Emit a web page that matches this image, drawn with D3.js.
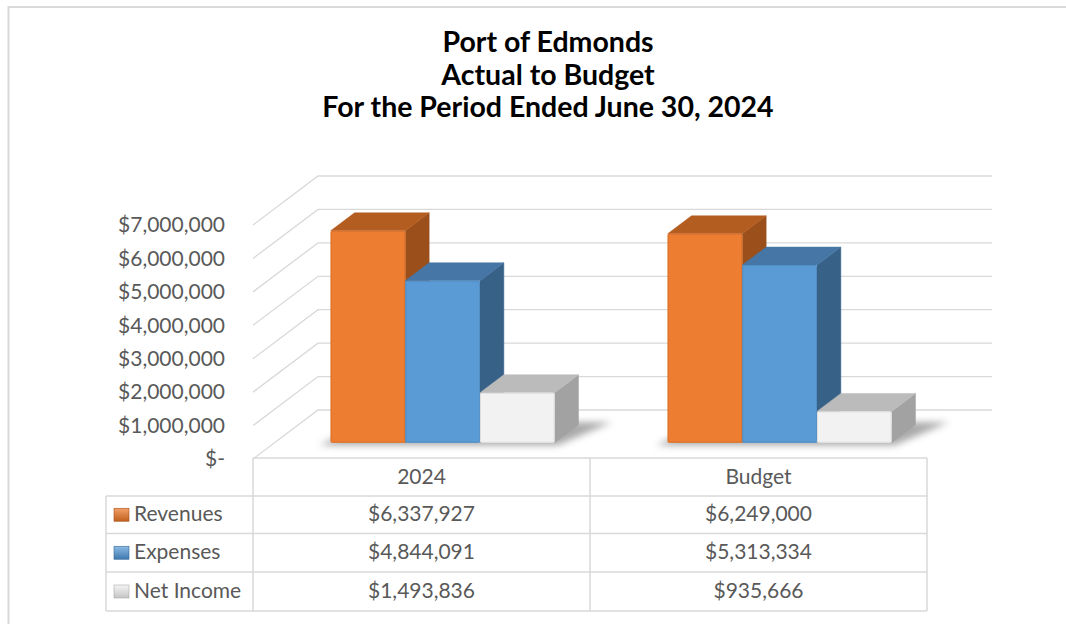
<!DOCTYPE html>
<html>
<head>
<meta charset="utf-8">
<script src="https://cdn.jsdelivr.net/npm/d3@7/dist/d3.min.js"></script>
<style>
  html, body { margin: 0; padding: 0; background: #fff; }
  svg { display: block; font-family: Lato, "Open Sans", sans-serif; }
</style>
</head>
<body>
<svg id="chart" width="1066" height="624"></svg>
<script>
// ---------------- data ----------------
const titleLines = ["Port of Edmonds", "Actual to Budget", "For the Period Ended June 30, 2024"];
const categories = ["2024", "Budget"];
const seriesNames = ["Revenues", "Expenses", "Net Income"];
const revenues = [6337927, 6249000];
const expenses = [4844091, 5313334];
const netIncome = [1493836, 935666];
const yTicks = [0, 1000000, 2000000, 3000000, 4000000, 5000000, 6000000, 7000000];
const yTickLabels = ["$-", "$1,000,000", "$2,000,000", "$3,000,000", "$4,000,000", "$5,000,000", "$6,000,000", "$7,000,000"];
const valueLabels = [
  ["$6,337,927", "$6,249,000"],
  ["$4,844,091", "$5,313,334"],
  ["$1,493,836", "$935,666"]
];

// ---------------- styles ----------------
const seriesValues = [revenues, expenses, netIncome];
const palette = {
  Revenues:    { front: "#ED7D31", top: "#B45D21", side: "#9B4F1B", key1: "#F4A06A", key2: "#C0601E" },
  Expenses:    { front: "#5B9BD5", top: "#4676A5", side: "#386188", key1: "#8DBCE6", key2: "#3F78AE" },
  "Net Income":{ front: "#F2F2F2", top: "#BBBBBB", side: "#A2A2A2", key1: "#F5F5F5", key2: "#C4C4C4" }
};
const gridColor = "#D9D9D9";
const textColor = "#595959";

const svg = d3.select("#chart");

// outer frame
svg.append("path").attr("d", "M8.5,624 L8.5,7 L1066,7")
  .attr("fill", "none").attr("stroke", gridColor).attr("stroke-width", 2);

// title
svg.append("g").selectAll("text").data(titleLines).join("text")
  .attr("x", 548).attr("y", (d, i) => 52 + i * 32.5)
  .attr("text-anchor", "middle").attr("font-weight", 700)
  .attr("font-size", 28.5).attr("fill", "#000").text(d => d);

// ---------------- 3D projection ----------------
const floorFront = 459, DX = 65, DY = 49;
const x = d3.scaleBand().domain(categories).range([253, 927]).paddingInner(0).paddingOuter(0);
const xs = d3.scaleBand().domain(seriesNames).range([56, 280]).padding(0);
const y = d3.scaleLinear().domain([0, 7000000]).range([0, 234]);
const proj = (px, v, d) => [px + d * DX, floorFront - d * DY - y(v)];
const line = d3.line();

// walls / gridlines
const grid = svg.append("g");
yTicks.forEach(v => {
  grid.append("path")
    .attr("d", line([proj(x.range()[0], v, 0), proj(x.range()[0], v, 1), proj(x.range()[1], v, 1)]))
    .attr("fill", "none").attr("stroke", gridColor).attr("stroke-width", 1.3);
});

// y labels
svg.append("g").selectAll("text").data(yTicks).join("text")
  .attr("x", 225).attr("y", v => proj(0, v, 0)[1] + 2)
  .attr("text-anchor", "end").attr("dominant-baseline", "middle")
  .attr("font-size", 21).attr("fill", textColor)
  .text((v, i) => yTickLabels[i]);

// defs
const defs = svg.append("defs");
defs.append("filter").attr("id", "blur").attr("x", "-20%").attr("y", "-50%").attr("width", "140%").attr("height", "200%")
  .append("feGaussianBlur").attr("stdDeviation", 3.5);
seriesNames.forEach((s, i) => {
  const g = defs.append("linearGradient").attr("id", "key" + i).attr("x1", 0).attr("y1", 0).attr("x2", 0).attr("y2", 1);
  g.append("stop").attr("offset", "0%").attr("stop-color", palette[s].key1);
  g.append("stop").attr("offset", "100%").attr("stop-color", palette[s].key2);
});

// bars
const d0 = 0.333, d1 = 0.70;
const barsG = svg.append("g");
categories.forEach((c, ci) => {
  const gx = x(c);
  const left = gx + xs(seriesNames[0]);
  const right = gx + xs(seriesNames[2]) + xs.bandwidth();
  // shadow of the group
  barsG.append("path")
    .attr("d", line([proj(left - 8, 0, d0 - 0.05), proj(right + 6, 0, d0 - 0.05), proj(right + 30, 0, d1 + 0.05), proj(left + 10, 0, d1 + 0.05)]) + "Z")
    .attr("fill", "#555").attr("opacity", 0.5).attr("filter", "url(#blur)");
  seriesNames.forEach((s, si) => {
    const v = seriesValues[si][ci];
    const bx0 = gx + xs(s), bx1 = bx0 + xs.bandwidth();
    const col = palette[s];
    const g = barsG.append("g");
    // right side
    g.append("path").attr("d", line([proj(bx1, 0, d0), proj(bx1, 0, d1), proj(bx1, v, d1), proj(bx1, v, d0)]) + "Z")
      .attr("fill", col.side).attr("stroke", col.side).attr("stroke-width", 0.5).attr("stroke-linejoin", "round");
    // top
    g.append("path").attr("d", line([proj(bx0, v, d0), proj(bx1, v, d0), proj(bx1, v, d1), proj(bx0, v, d1)]) + "Z")
      .attr("fill", col.top).attr("stroke", col.top).attr("stroke-width", 0.5).attr("stroke-linejoin", "round");
    // front
    const [fx, fy] = proj(bx0, v, d0);
    const [, fb] = proj(bx0, 0, d0);
    g.append("rect").attr("x", fx).attr("y", fy).attr("width", bx1 - bx0).attr("height", fb - fy)
      .attr("fill", col.front).attr("rx", 1.5);
    // subtle edge highlight
    g.append("rect").attr("x", fx + 0.5).attr("y", fy + 0.5).attr("width", bx1 - bx0 - 1).attr("height", fb - fy - 1)
      .attr("fill", "none").attr("stroke", d3.color(col.front).darker(0.25)).attr("stroke-width", 1).attr("rx", 1.5);
  });
});

// ---------------- data table ----------------
const rowY = [458, 496, 533.5, 572, 611];
const tableLeft = 106, legendRight = 253, tableRight = 927;
const tbl = svg.append("g").attr("stroke", gridColor).attr("stroke-width", 1.5).attr("fill", "none");
tbl.append("path").attr("d", `M${legendRight},${rowY[0]} L${tableRight},${rowY[0]}`);
rowY.slice(1).forEach(ry => tbl.append("path").attr("d", `M${tableLeft},${ry} L${tableRight},${ry}`));
[legendRight, x(categories[1]), tableRight].forEach(cx =>
  tbl.append("path").attr("d", `M${cx},${rowY[0]} L${cx},${rowY[4]}`));
tbl.append("path").attr("d", `M${tableLeft},${rowY[1]} L${tableLeft},${rowY[4]}`);

const rowMid = i => (rowY[i] + rowY[i + 1]) / 2;
// header
svg.append("g").selectAll("text").data(categories).join("text")
  .attr("x", c => x(c) + x.bandwidth() / 2).attr("y", rowMid(0) + 2)
  .attr("text-anchor", "middle").attr("dominant-baseline", "middle")
  .attr("font-size", 21).attr("fill", textColor).text(c => c);
// rows
seriesNames.forEach((s, si) => {
  const my = rowMid(si + 1);
  svg.append("rect").attr("x", 114).attr("y", my - 6.5).attr("width", 15).attr("height", 13)
    .attr("fill", `url(#key${si})`).attr("stroke", d3.color(palette[s].key2).darker(0.4)).attr("stroke-width", 0.6);
  svg.append("text").attr("x", 134).attr("y", my + 1)
    .attr("dominant-baseline", "middle").attr("font-size", 21).attr("fill", textColor).text(s);
  categories.forEach((c, ci) => {
    svg.append("text").attr("x", x(c) + x.bandwidth() / 2).attr("y", my + 1)
      .attr("text-anchor", "middle").attr("dominant-baseline", "middle")
      .attr("font-size", 21).attr("fill", textColor).text(valueLabels[si][ci]);
  });
});
</script>
</body>
</html>
